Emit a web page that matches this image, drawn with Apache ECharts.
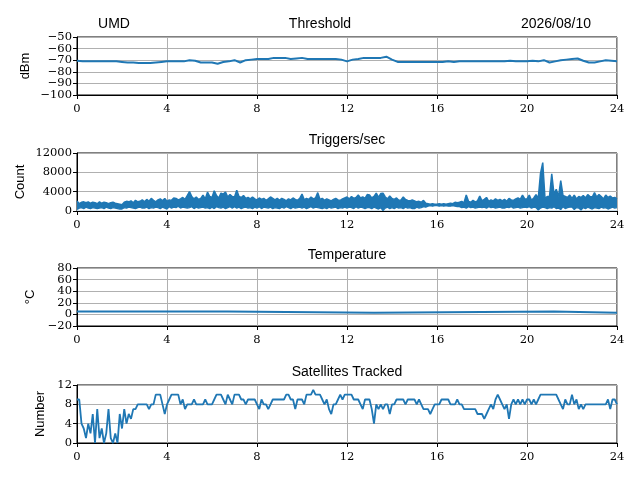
<!DOCTYPE html>
<html>
<head>
<meta charset="utf-8">
<script src="https://cdn.jsdelivr.net/npm/echarts@6/dist/echarts.min.js"></script>
<style>
  html, body { margin: 0; padding: 0; background: #fff; }
  #main { width: 640px; height: 480px; }
</style>
</head>
<body>
<div id="main"></div>
<script>
// sample spacing (hours) of each logged series
var thresholdStep = 0.25;
var sampleStep = 0.1;

// Threshold, dBm, every 15 minutes
var thresholdValues = [
  -70.5, -71, -71, -71,   -71, -71, -71, -71,   -71.5, -72, -72, -72.5,
  -72.5, -72.5, -72, -71.5,   -71, -71, -71, -71,   -70, -70.5, -72, -72,
  -72, -73, -71.5, -71,   -70, -72, -70, -69.5,   -69, -69, -69, -68,
  -68, -68, -69, -68.5,   -68, -69, -69, -69,   -69, -69, -69, -69.5,
  -71, -69.5, -69, -68,   -68, -68, -68, -67,   -69.5, -71.5, -71.5, -71.5,
  -71.5, -71.5, -71.5, -71.5,   -71.5, -71.5, -71, -71.5,   -71, -71, -71, -71,
  -71, -71, -71, -71,   -71, -70.5, -71, -71,   -71, -70.5, -71, -70,
  -72, -71, -70, -69.5,   -69, -68.5, -70.5, -72,   -72, -71, -70, -70.5,
  -71
];

// Triggers per second, every 6 minutes: top and bottom of the noisy band
var triggerHigh = [
  2100, 1500, 1800, 1900, 1700, 1900, 1600, 1800, 1700, 1500,
  1900, 1600, 1800, 1700, 1500, 1700, 1800, 1600, 1500, 1400,
  1300, 1800, 2000, 1900, 2100, 1700, 2200, 1900, 2000, 2300,
  1900, 2400, 2000, 2600, 2200, 1900, 2300, 2500, 2100, 2600,
  2000, 2300, 2200, 2700, 2600, 2300, 2500, 2800, 2400, 3200,
  4000, 3000, 2500, 2900, 2400, 2600, 3300, 2500, 3900, 3000,
  2800, 4200, 3200, 2700, 3700, 3500, 3900, 2900, 3400, 3000,
  2900, 4300, 3000, 2800, 3200, 2600, 2800, 2500, 2900, 2500,
  2300, 2700, 2400, 2600, 2200, 2500, 2900, 2600, 2300, 2600,
  2200, 2600, 2400, 2100, 2500, 2300, 2700, 2400, 2200, 2600,
  3500, 2300, 2600, 2400, 2900, 2500, 2700, 3800, 2400, 2600,
  2200, 2500, 2300, 2100, 2400, 2600, 2300, 2200, 2500, 2700,
  2900, 2500, 3000, 2600, 2800, 3300, 2700, 2900, 2600, 3400,
  3300, 2700, 3000, 3700, 2800, 3600, 3700, 2900, 2500, 3100,
  2600, 2400, 2700, 2200, 2300, 2900, 2400, 2200, 2100, 2300,
  2100, 1900, 2000, 1800, 2200, 1600, 1500, 1400, 1500, 1400,
  1400, 1500, 1400, 1500, 1400, 1500, 1600, 1500, 1800, 1700,
  1800, 2000, 1700, 3300, 2000, 1800, 2200, 1900, 2100, 3100,
  2100, 2400, 2800, 2000, 2300, 2100, 2500, 2200, 2400, 2100,
  2400, 2000, 2600, 2300, 2200, 2500, 2700, 2400, 3300, 2500,
  2500, 3300, 2200, 2700, 3400, 2600, 7800, 10000, 2600, 3000,
  3000, 7700, 3500, 4500, 3000, 6300, 3200, 3000, 2800, 3300,
  2600, 3300, 2500, 3000, 2800, 3200, 2700, 3400, 3000, 2900,
  3800, 2900, 3400, 3000, 2500, 3300, 2800, 3100, 2700, 2800,
  2500
];
var triggerLow = [
  300, 600, 700, 500, 800, 600, 500, 700, 600, 500,
  600, 700, 500, 800, 600, 500, 700, 600, 500, 400,
  400, 700, 600, 800, 700, 600, 500, 700, 800, 600,
  600, 800, 500, 700, 600, 800, 700, 500, 800, 600,
  400, 900, 600, 800, 700, 1000, 600, 800, 700, 600,
  700, 900, 500, 800, 600, 700, 800, 600, 700, 500,
  800, 500, 900, 700, 600, 800, 500, 700, 900, 600,
  900, 600, 800, 500, 700, 800, 600, 700, 500, 800,
  600, 900, 500, 800, 700, 600, 800, 500, 700, 600,
  500, 800, 600, 900, 700, 500, 800, 600, 700, 800,
  600, 800, 500, 700, 900, 600, 800, 700, 600, 500,
  700, 500, 800, 600, 700, 800, 500, 700, 600, 800,
  600, 800, 700, 500, 900, 600, 800, 700, 500, 700,
  700, 500, 800, 600, 400, 700, 100, 600, 800, 500,
  700, 500, 800, 600, 700, 500, 800, 600, 700, 500,
  500, 800, 600, 700, 900, 800, 1000, 1100, 1000, 1100,
  1100, 1000, 1100, 1000, 1100, 1000, 1000, 1100, 1000, 900,
  900, 700, 800, 600, 900, 700, 800, 600, 700, 800,
  700, 800, 600, 900, 700, 800, 600, 700, 800, 600,
  600, 800, 700, 900, 600, 700, 800, 600, 700, 800,
  700, 900, 600, 800, 700, 200, 600, 800, 700, 500,
  700, 600, 900, 500, 600, 300, 900, 500, 700, 800,
  800, 300, 700, 600, 200, 700, 500, 800, 600, 400,
  700, 600, 500, 800, 600, 700, 400, 600, 800, 600,
  700
];

// Temperature, C (value holds until the next change)
var tempHours = [0, 6.7, 6.7, 13.2, 13.2, 21.2, 21.2, 24];
var tempValues = [5, 5, 3, 3, 5, 5, 3, 3];

// Satellites tracked, every 6 minutes
var satValues = [
  9, 9, 4, 3, 1, 4, 2, 6, 0, 7,
  1, 3, 0, 2, 7, 1, 0, 2, 0, 6,
  3, 7, 4, 6, 5, 7, 7, 8, 8, 8,
  8, 8, 7, 8, 8, 10, 10, 10, 8, 6,
  8, 9, 10, 10, 10, 10, 8, 9, 7, 8,
  8, 8, 9, 8, 8, 8, 8, 9, 8, 8,
  8, 9, 10, 10, 10, 9, 8, 10, 9, 8,
  10, 10, 10, 9, 9, 8, 9, 9, 9, 9,
  8, 7, 9, 8, 8, 7, 8, 9, 9, 9,
  9, 9, 9, 10, 10, 9, 9, 7, 9, 9,
  9, 8, 10, 10, 10, 11, 10, 10, 10, 9,
  8, 9, 7, 6, 8, 8, 9, 10, 9, 10,
  10, 10, 10, 9, 9, 9, 8, 7, 9, 9,
  9, 7, 4, 8, 7, 8, 7, 8, 8, 6,
  8, 8, 9, 9, 9, 9, 8, 9, 9, 9,
  9, 8, 9, 8, 7, 7, 7, 6, 7, 8,
  8, 8, 9, 9, 9, 9, 8, 8, 8, 9,
  8, 8, 7, 7, 7, 7, 7, 7, 6, 6,
  6, 5, 6, 7, 8, 7, 9, 10, 9, 8,
  7, 8, 5, 8, 9, 8, 9, 8, 9, 8,
  9, 9, 8, 9, 8, 9, 10, 10, 10, 10,
  10, 10, 10, 10, 9, 8, 7, 9, 8, 8,
  10, 8, 9, 7, 8, 7, 8, 8, 8, 8,
  8, 8, 8, 8, 8, 8, 9, 7, 9, 9,
  8
];

var panelTitles = ['Threshold', 'Triggers/sec', 'Temperature', 'Satellites Tracked'];
var yNames = ['dBm', 'Count', '\u00b0C', 'Number'];
var yTicks = [
  [-100, -90, -80, -70, -60, -50],
  [0, 4000, 8000, 12000],
  [-20, 0, 20, 40, 60, 80],
  [0, 4, 8, 12]
];
var hourTicks = [0, 4, 8, 12, 16, 20, 24];
var siteName = 'UMD';
var dateText = '2026/08/10';

function pairs(values, step) {
  var out = [];
  for (var i = 0; i < values.length; i++) out.push([+(i * step).toFixed(3), values[i]]);
  return out;
}
function zip(xs, ys) {
  var out = [];
  for (var i = 0; i < xs.length; i++) out.push([xs[i], ys[i]]);
  return out;
}
function everyOther(list, start) {
  return list.filter(function (v, i) { return i % 2 === start; });
}
function minusSign(v) { return String(v).replace('-', '\u2212'); }

var blue = '#1f77b4';
var serif = 'DejaVu Serif';
var sans = 'Liberation Sans';
var tickFont = 11.5;
var gridTops = [37, 153, 268, 385];
var nameGaps = [45, 50, 40, 30];
var titleCenters = [315, 342, 342, 342];
var grids = [], xAxes = [], yAxes = [], titles = [];

for (var k = 0; k < 4; k++) {
  var t = yTicks[k];
  var lo = t[0], hi = t[t.length - 1], step = t[1] - t[0];
  grids.push({ left: 77, right: 23, top: gridTops[k], height: 58,
    show: true, borderColor: '#000', borderWidth: 1, containLabel: false });
  xAxes.push({
    type: 'value', gridIndex: k, min: hourTicks[0], max: hourTicks[hourTicks.length - 1],
    interval: hourTicks[1] - hourTicks[0],
    axisLine: { show: true, onZero: false, lineStyle: { color: '#000', width: 1 } },
    axisTick: { show: true, length: 4, lineStyle: { color: '#000' } },
    axisLabel: { color: '#000', fontFamily: serif, fontSize: tickFont, margin: 8 },
    splitLine: { show: true, lineStyle: { color: '#b0b0b0', width: 1 } }
  });
  // two y axes per panel: labels split in alternate sets so the tight ones are not dropped
  yAxes.push({
    type: 'value', gridIndex: k, min: lo, max: hi, interval: step,
    name: yNames[k], nameLocation: 'middle', nameRotate: 90, nameGap: nameGaps[k],
    nameMoveOverlap: false,
    nameTextStyle: { color: '#000', fontFamily: sans, fontSize: 13 },
    axisLine: { show: true, onZero: false, lineStyle: { color: '#000', width: 1 } },
    axisTick: { show: true, length: 4, lineStyle: { color: '#000' } },
    axisLabel: { color: '#000', fontFamily: serif, fontSize: tickFont, margin: 5,
      customValues: everyOther(t, 0), formatter: minusSign },
    splitLine: { show: true, lineStyle: { color: '#b0b0b0', width: 1 } }
  });
  yAxes.push({
    type: 'value', gridIndex: k, min: lo, max: hi, interval: step, position: 'left',
    axisLine: { show: false }, axisTick: { show: false }, splitLine: { show: false },
    axisLabel: { color: '#000', fontFamily: serif, fontSize: tickFont, margin: 5,
      customValues: everyOther(t, 1), formatter: minusSign }
  });
  titles.push({ text: panelTitles[k], left: titleCenters[k], top: gridTops[k] - 25, textAlign: 'center',
    textStyle: { fontFamily: sans, fontWeight: 'normal', fontSize: 14, color: '#000' } });
}
titles.push({ text: siteName, left: 109, top: 12, textAlign: 'center',
  textStyle: { fontFamily: sans, fontWeight: 'normal', fontSize: 14, color: '#000' } });
titles.push({ text: dateText, left: 551, top: 12, textAlign: 'center',
  textStyle: { fontFamily: sans, fontWeight: 'normal', fontSize: 14, color: '#000' } });

function line(k, data, width) {
  return { type: 'line', xAxisIndex: k, yAxisIndex: 2 * k, data: data, showSymbol: false,
    lineStyle: { color: blue, width: width }, itemStyle: { color: blue },
    clip: true, silent: true };
}

// triggers: blue fill under the top edge, then white fill under the bottom edge
var trigHighSeries = line(1, pairs(triggerHigh, sampleStep), 1.5);
trigHighSeries.areaStyle = { color: blue, opacity: 1, origin: 60 };
var trigLowSeries = line(1, pairs(triggerLow, sampleStep), 1.3);
trigLowSeries.areaStyle = { color: '#fff', opacity: 1, origin: 60 };

var myChart = echarts.init(document.getElementById('main'));
var option = {
  animation: false,
  backgroundColor: '#fff',
  title: titles,
  grid: grids,
  xAxis: xAxes,
  yAxis: yAxes,
  series: [
    line(0, pairs(thresholdValues, thresholdStep), 2),
    trigHighSeries,
    trigLowSeries,
    line(2, zip(tempHours, tempValues), 2),
    line(3, pairs(satValues, sampleStep), 1.8)
  ]
};
myChart.setOption(option);
</script>
</body>
</html>
